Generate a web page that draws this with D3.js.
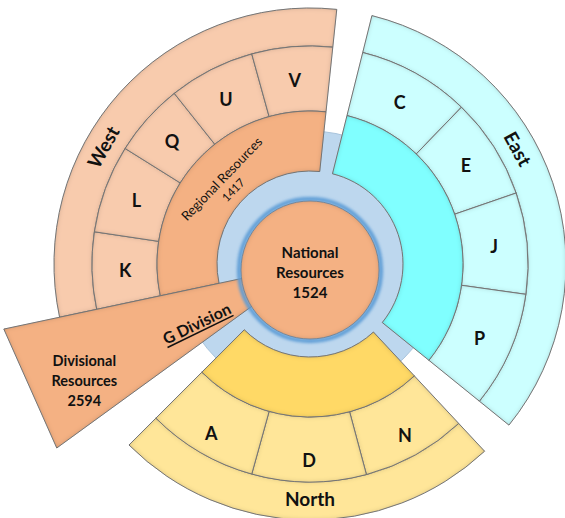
<!DOCTYPE html>
<html>
<head>
<meta charset="utf-8">
<script src="https://cdn.jsdelivr.net/npm/d3@7"></script>
<style>
  html, body { margin: 0; padding: 0; background: #fff; }
  text { font-family: Lato, "Open Sans", sans-serif; fill: #111; }
</style>
</head>
<body>
<svg id="chart" width="565" height="518"></svg>
<script>
// chart data
const westCells = ["K", "L", "Q", "U", "V"];
const westShares = [20.5, 23.5, 19.5, 23, 21.5];
const eastCells = ["C", "E", "J", "P"];
const eastShares = [30, 27, 27, 31];
const northCells = ["N", "D", "A"];
const northShares = [28, 30.5, 29.5];
const divisionShare = 24;
const coreLabel = ["National", "Resources", "1524"];
const regionalLabel = ["Regional Resources", "1417"];
const divisionLabel = ["Divisional", "Resources", "2594"];
const divisionName = "G Division";

document.addEventListener("DOMContentLoaded", () => {
  const svg = d3.select("#chart");
  const cx = 310, cy = 264;
  const rCore = 69, rBlue = 133, rIn = 93, rMid = 153, rOut = 218, rEdge = 256, rDiv = 313;
  const startAngle = -102, gaps = [8, 8];

  const rad = d3.scaleLinear().domain([0, 360]).range([0, 2 * Math.PI]);
  const arc = d3.arc();
  const band = (a0, a1, r0, r1) => arc({
    startAngle: rad(a0), endAngle: rad(a1), innerRadius: r0, outerRadius: r1
  });
  const polar = (a, r) => [cx + r * Math.sin(rad(a)), cy - r * Math.cos(rad(a))];

  // inner shadow to get the soft bevelled look
  const defs = svg.append("defs");
  const f = defs.append("filter").attr("id", "inset")
    .attr("x", "-5%").attr("y", "-5%").attr("width", "110%").attr("height", "110%");
  f.append("feComponentTransfer").attr("in", "SourceAlpha").attr("result", "inv")
    .append("feFuncA").attr("type", "table").attr("tableValues", "1 0");
  f.append("feGaussianBlur").attr("in", "inv").attr("stdDeviation", 2.5).attr("result", "blur");
  f.append("feFlood").attr("flood-color", "#000").attr("flood-opacity", 0.42).attr("result", "col");
  f.append("feComposite").attr("in", "col").attr("in2", "blur").attr("operator", "in").attr("result", "sh");
  f.append("feComposite").attr("in", "sh").attr("in2", "SourceAlpha").attr("operator", "in").attr("result", "ish");
  const fm = f.append("feMerge");
  fm.append("feMergeNode").attr("in", "SourceGraphic");
  fm.append("feMergeNode").attr("in", "ish");

  const halo = defs.append("filter").attr("id", "halo");
  halo.append("feGaussianBlur").attr("stdDeviation", 1.6);

  const g = svg.append("g").attr("transform", `translate(${cx},${cy})`);

  // blue disc behind everything
  g.append("circle").attr("r", rBlue).attr("fill", "#BDD7EE")
    .attr("stroke", "#a9c4dc").attr("stroke-width", 1);

  const sectors = [
    { name: "West", cells: westCells, shares: westShares, light: "#F8CBAD", dark: "#F4B183" },
    { name: "East", cells: eastCells, shares: eastShares, light: "#CCFFFF", dark: "#80FFFF" },
    { name: "North", cells: northCells, shares: northShares, light: "#FFE699", dark: "#FFD966" }
  ];
  let a = startAngle;
  sectors.forEach((s, i) => {
    s.start = a;
    s.end = a + d3.sum(s.shares);
    const bounds = [s.start, ...d3.cumsum(s.shares).map(v => s.start + v)];
    s.cellArcs = s.cells.map((c, j) => ({ label: c, a0: bounds[j], a1: bounds[j + 1] }));
    a = s.end + (gaps[i] || 0);
  });

  const stroke = "#808080";
  sectors.forEach(s => {
    const sg = g.append("g").attr("class", "sector");
    sg.append("path").attr("d", band(s.start, s.end, rOut, rEdge))
      .attr("fill", s.light).attr("stroke", stroke).attr("filter", "url(#inset)");
    sg.selectAll("path.cell")
      .data(s.cellArcs)
      .join("path")
        .classed("cell", true)
        .attr("d", d => band(d.a0, d.a1, rMid, rOut))
        .attr("fill", s.light).attr("stroke", stroke).attr("filter", "url(#inset)");
    sg.append("path").attr("d", band(s.start, s.end, rIn, rMid))
      .attr("fill", s.dark).attr("stroke", stroke).attr("filter", "url(#inset)");
  });

  // G Division wedge (straight outer edge)
  const divEnd = startAngle, divStart = startAngle - divisionShare;
  const wedge = d3.lineRadial().curve(d3.curveLinearClosed)
    .angle(d => rad(d[0])).radius(d => d[1]);
  g.append("path")
    .attr("d", wedge([[divStart, 60], [divStart, rDiv], [divEnd, rDiv], [divEnd, 60]]))
    .attr("fill", "#F4B183").attr("stroke", stroke).attr("filter", "url(#inset)");

  // core circle
  const coreDy = 6;
  g.append("circle").attr("cy", coreDy).attr("r", rCore + 2)
    .attr("fill", "none").attr("stroke", "#5B9BD5").attr("stroke-width", 4)
    .attr("filter", "url(#halo)");
  g.append("circle").attr("cy", coreDy).attr("r", rCore)
    .attr("fill", "#F4B183").attr("stroke", "#6b8cab").attr("stroke-width", 0.8)
    .attr("filter", "url(#inset)");

  // labels
  const labels = svg.append("g");
  const rLabel = { West: 185, East: 185, North: 196 };
  sectors.forEach(s => {
    s.cellArcs.forEach(d => {
      const [x, y] = polar((d.a0 + d.a1) / 2, rLabel[s.name]);
      labels.append("text").attr("x", x).attr("y", y)
        .attr("text-anchor", "middle").attr("dominant-baseline", "central")
        .attr("font-size", 18).attr("font-weight", 700).text(d.label);
    });
  });

  const rotated = (txt, ang, r, rot, size, weight) => {
    const [x, y] = polar(ang, r);
    return labels.append("text")
      .attr("transform", `translate(${x},${y}) rotate(${rot})`)
      .attr("text-anchor", "middle").attr("dominant-baseline", "central")
      .attr("font-size", size).attr("font-weight", weight).text(txt);
  };
  rotated("West", -60.5, 238, -60.5, 19, 700);
  rotated("East", 61, 238, 61, 19, 700);
  rotated("North", 180, 234, 0, 19, 700);

  rotated(regionalLabel[0], -46, 123, -46, 13, 400);
  rotated(regionalLabel[1], -46, 107, -46, 11.5, 400);

  rotated(divisionName, -117.5, 128, -26, 16, 700)
    .style("text-decoration", "underline");

  divisionLabel.forEach((t, i) => {
    const [x, y] = polar(-117.3, 254);
    labels.append("text").attr("x", x).attr("y", y + (i - 1) * 20)
      .attr("text-anchor", "middle").attr("dominant-baseline", "central")
      .attr("font-size", 14.5).attr("font-weight", 700).text(t);
  });

  coreLabel.forEach((t, i) => {
    labels.append("text").attr("x", cx).attr("y", cy + coreDy + 2 + (i - 1) * 20)
      .attr("text-anchor", "middle").attr("dominant-baseline", "central")
      .attr("font-size", 15).attr("font-weight", 700).text(t);
  });
});
</script>
</body>
</html>
